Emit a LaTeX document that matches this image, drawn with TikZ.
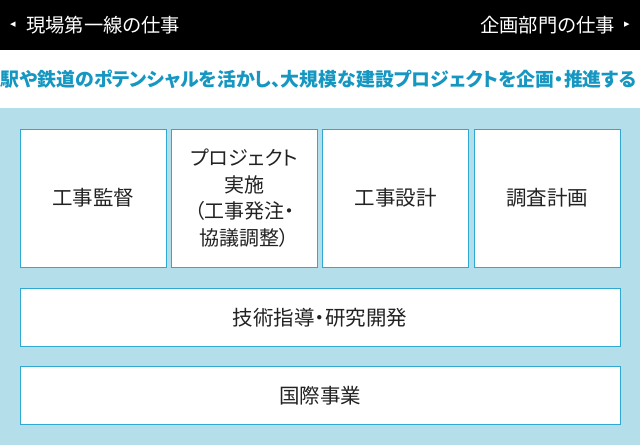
\documentclass[tikz,border=0pt]{standalone}
\usepackage{fontspec}
\setmainfont{Noto Sans CJK JP}[RawFeature=+palt]
\newfontfamily\symb{DejaVu Sans}
\usepackage{tikz}
\usetikzlibrary{positioning}

\definecolor{paleblue}{HTML}{B3DEEA}
\definecolor{rimblue}{HTML}{2FA8D2}
\definecolor{titleblue}{HTML}{1597C2}
\definecolor{inkgray}{HTML}{222222}

\begin{document}
\begin{tikzpicture}[x=1pt, y=-1pt,
		jobbox/.style={draw=rimblue, line width=1pt, fill=white, inner sep=0pt, align=center,
			text=inkgray, font=\fontsize{20.5}{26.5}\selectfont},
		headtext/.style={text=white, inner sep=0pt, font=\fontsize{19.3}{22}\selectfont},
		arrowtip/.style={text=white, inner sep=0pt, font=\symb\fontsize{11}{12}\selectfont}]
		
		\useasboundingbox (0,0) rectangle (640,445);
		\fill[black] (0,0) rectangle (640,50);
		\fill[white] (0,50) rectangle (640,108);
		\fill[paleblue] (0,108) rectangle (640,445);
		
		\node[arrowtip] (tipl) at (13,25) {◂};
		\node[headtext, anchor=west] (field) at (26,25) {現場第一線の仕事};
		\node[headtext, anchor=east] (plan) at (615,25) {企画部門の仕事};
		\node[arrowtip] (tipr) at (627,25) {▸};
		
		\node[text=titleblue, inner sep=0pt, font=\bfseries\fontsize{18.9}{22}\selectfont] (title) at (318.5,79)
			{駅や鉄道のポテンシャルを活かし、大規模な建設プロジェクトを企画・推進する};
		
		\node[jobbox, minimum width=146, minimum height=138] (kanri) at (93,198) {工事監督};
		\node[jobbox, minimum width=146, minimum height=138, font=\fontsize{20}{26.5}\selectfont] (jisshi) at (244.33,198)
			{プロジェクト\\実施\\（工事発注・\\協議調整）};
		\node[jobbox, minimum width=146, minimum height=138] (sekkei) at (395.67,198) {工事設計};
		\node[jobbox, minimum width=146, minimum height=138] (chosa) at (547,198) {調査計画};
		
		\node[jobbox, minimum width=600, minimum height=58.5] (kenkyu) at (320,317.5) {技術指導・研究開発};
		\node[jobbox, minimum width=600, minimum height=58] (kokusai) at (320,395.5) {国際事業};
		
\end{tikzpicture}
\end{document}
